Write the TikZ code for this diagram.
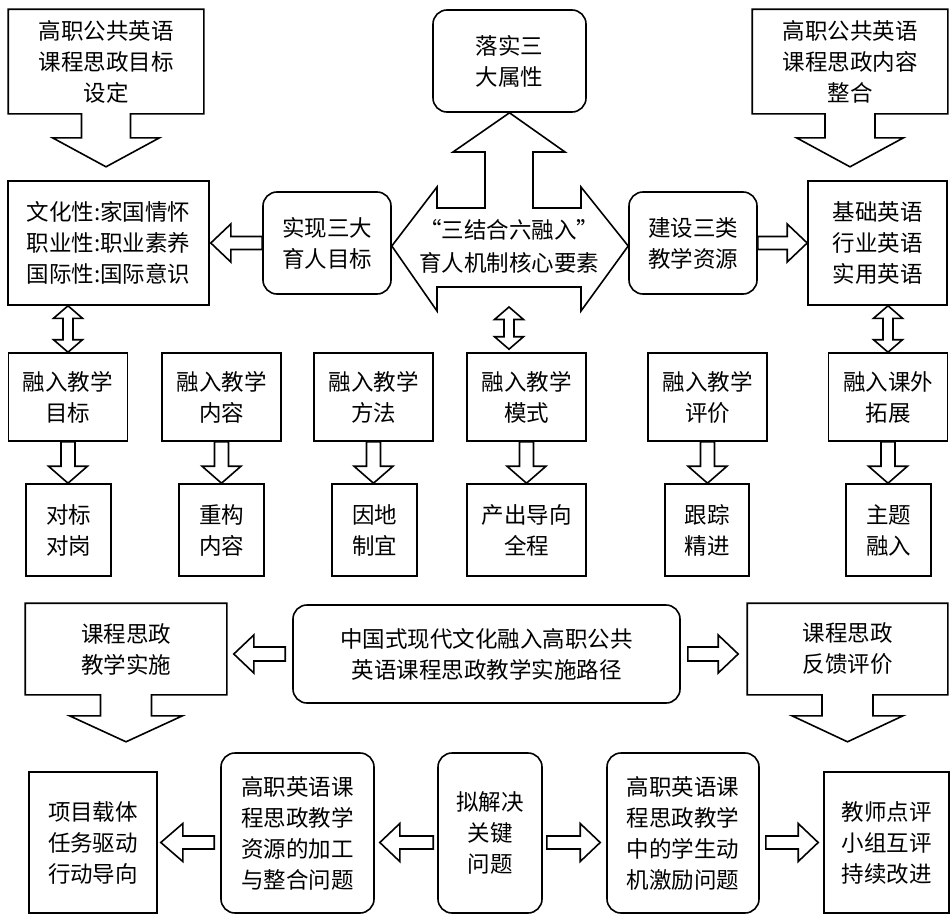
\documentclass[tikz,border=0pt]{standalone}
\usepackage{fontspec}
\setmainfont{Noto Sans CJK SC}
\usepackage{tikz}
\usetikzlibrary{calc}
\tikzset{
    sqbox/.style={rectangle, draw=black, line width=1.6pt, align=center, inner sep=0pt,
        font=\fontsize{22.5}{31}\selectfont},
    rdbox/.style={sqbox, rounded corners=14pt},
    callbox/.style={sqbox, draw=none},
    tipline/.style={draw=black, line width=1.6pt, line join=miter},
}
% hollow block arrows between named points
\newcommand{\blockarrow}[5]{%
    \coordinate (ba-a) at #1;
    \coordinate (ba-b) at #2;
    \coordinate (ba-c) at ($(ba-b)!#5!(ba-a)$);
    \draw[tipline] ($(ba-a)!#3!90:(ba-b)$) -- ($(ba-c)!#3!90:(ba-b)$) -- ($(ba-c)!#4!90:(ba-b)$)
        -- (ba-b) -- ($(ba-c)!#4!-90:(ba-b)$) -- ($(ba-c)!#3!-90:(ba-b)$) -- ($(ba-a)!#3!-90:(ba-b)$) -- cycle;
}
\newcommand{\dblarrow}[5]{%
    \coordinate (da-a) at #1;
    \coordinate (da-b) at #2;
    \coordinate (da-c) at ($(da-a)!#5!(da-b)$);
    \coordinate (da-d) at ($(da-b)!#5!(da-a)$);
    \draw[tipline] (da-a) -- ($(da-c)!#4!90:(da-b)$) -- ($(da-c)!#3!90:(da-b)$) -- ($(da-d)!#3!90:(da-b)$)
        -- ($(da-d)!#4!90:(da-b)$) -- (da-b) -- ($(da-d)!#4!-90:(da-b)$) -- ($(da-d)!#3!-90:(da-b)$)
        -- ($(da-c)!#3!-90:(da-b)$) -- ($(da-c)!#4!-90:(da-b)$) -- cycle;
}
% box with a block arrow hanging below it
\newcommand{\calloutdown}[5]{%
    \draw[tipline] (#1.north west) -- (#1.north east) -- (#1.south east)
        -- ($(#1.south)+(#2,0)$) -- ($(#1.south)+(#2,#4)$) -- ($(#1.south)+(#3,#4)$)
        -- ($(#1.south)+(0,#4+#5)$) -- ($(#1.south)+(-#3,#4)$) -- ($(#1.south)+(-#2,#4)$)
        -- ($(#1.south)+(-#2,0)$) -- (#1.south west) -- cycle;
}

\begin{document}
\begin{tikzpicture}[x=1pt, y=-1pt]
    \useasboundingbox (0,0) rectangle (951,921);

    % top part
    \node[callbox, minimum width=194, minimum height=103] (goalset) at (106,61.5) {高职公共英语\\课程思政目标\\设定};
    \node[rdbox, minimum width=153, minimum height=102] (luoshi) at (509.5,61) {落实三\\大属性};
    \node[callbox, minimum width=194, minimum height=103] (contentset) at (850,61.5) {高职公共英语\\课程思政内容\\整合};
    \calloutdown{goalset}{24.5}{53.5}{24}{29}
    \calloutdown{contentset}{25}{53.5}{24}{29}

    \node[sqbox, minimum width=201, minimum height=124] (wenhua) at (108.5,243) {文化性:家国情怀\\职业性:职业素养\\国际性:国际意识};
    \node[rdbox, minimum width=128, minimum height=102] (shixian) at (327,243) {实现三大\\育人目标};
    \node[font=\fontsize{22.5}{33}\selectfont, align=center, inner sep=0pt] (core) at (509,246) {“三结合六融入”\\育人机制核心要素};
    \node[rdbox, minimum width=128, minimum height=102] (jianshe) at (693,243) {建设三类\\教学资源};
    \node[sqbox, minimum width=139, minimum height=124] (jichu) at (877.5,243) {基础英语\\行业英语\\实用英语};

    \draw[tipline] (shixian.east |- core) -- ($(core)+(-72,-59)$) -- ($(core)+(-72,-38)$) -- ($(core)+(-24,-38)$)
        -- ($(core)+(-24,-94)$) -- ($(core)+(-56,-94)$) -- (luoshi.south) -- ($(core)+(56,-94)$)
        -- ($(core)+(24,-94)$) -- ($(core)+(24,-38)$) -- ($(core)+(72,-38)$) -- ($(core)+(72,-59)$)
        -- (jianshe.west |- core) -- ($(core)+(72,65)$) -- ($(core)+(72,41)$) -- ($(core)+(-72,41)$)
        -- ($(core)+(-72,65)$) -- cycle;
    \blockarrow{(shixian.west)}{($(wenhua.east)+(1,0)$)}{6.5pt}{19pt}{20pt}
    \blockarrow{(jianshe.east)}{(jichu.west)}{6.5pt}{19pt}{20pt}

    % six ways of integration
    \foreach \name/\x/\top/\sx/\sw/\bottom in {
        r1/68/{融入教学\\目标}/68.5/85/{对标\\对岗},
        r2/221.5/{融入教学\\内容}/221.5/85/{重构\\内容},
        r3/373.5/{融入教学\\方法}/374.5/85/{因地\\制宜},
        r4/526.5/{融入教学\\模式}/526.5/119/{产出导向\\全程},
        r5/707.5/{融入教学\\评价}/707/84/{跟踪\\精进},
        r6/888/{融入课外\\拓展}/888.5/85/{主题\\融入}}{
        \node[sqbox, minimum width=119, minimum height=88] (\name) at (\x,397) {\top};
        \node[sqbox, minimum width=\sw, minimum height=92] (\name s) at (\sx,530) {\bottom};
        \blockarrow{(\name.south)}{(\name.south |- \name s.north)}{7pt}{19.5pt}{17pt}
    }
    \dblarrow{(r1.north |- wenhua.south)}{(r1.north)}{5pt}{14.5pt}{12.5pt}
    \dblarrow{($(core)+(0,61)$)}{($(core |- r4.north)+(0,-3)$)}{5pt}{14.5pt}{12.5pt}
    \dblarrow{(r6.north |- jichu.south)}{(r6.north)}{5pt}{14.5pt}{12.5pt}

    % bottom part
    \node[callbox, minimum width=200, minimum height=90] (shishi) at (126,649) {课程思政\\教学实施};
    \node[rdbox, minimum width=387, minimum height=98] (route) at (486.5,654) {中国式现代文化融入高职公共\\英语课程思政教学实施路径};
    \node[callbox, minimum width=199, minimum height=90] (fankui) at (847.5,649) {课程思政\\反馈评价};
    \calloutdown{shishi}{25.5}{56.5}{21}{26}
    \calloutdown{fankui}{25.5}{55.5}{21}{26}
    \blockarrow{($(route.west)+(-7,0)$)}{($(shishi.east |- route.west)+(7,0)$)}{7pt}{19pt}{20pt}
    \blockarrow{($(route.east)+(7,0)$)}{($(fankui.west |- route.east)+(-9,0)$)}{7pt}{19pt}{20pt}

    \node[sqbox, minimum width=128, minimum height=141] (xiangmu) at (93,842.5) {项目载体\\任务驱动\\行动导向};
    \node[rdbox, minimum width=153, minimum height=160] (ziyuan) at (297.5,833) {高职英语课\\程思政教学\\资源的加工\\与整合问题};
    \node[rdbox, minimum width=104, minimum height=160] (nijie) at (490,833) {拟解决\\关键\\问题};
    \node[rdbox, minimum width=152, minimum height=160] (dongji) at (683,833) {高职英语课\\程思政教学\\中的学生动\\机激励问题};
    \node[sqbox, minimum width=125, minimum height=141] (pingjia) at (886.5,842.5) {教师点评\\小组互评\\持续改进};
    \blockarrow{($(nijie.west |- xiangmu)+(-4,0)$)}{($(ziyuan.east |- xiangmu)+(5,0)$)}{6.5pt}{19pt}{20pt}
    \blockarrow{($(ziyuan.west |- xiangmu)+(-6,0)$)}{($(xiangmu.east)+(3,0)$)}{6.5pt}{19pt}{22pt}
    \blockarrow{($(nijie.east |- xiangmu)+(4,0)$)}{($(dongji.west |- xiangmu)+(-6,0)$)}{6.5pt}{19pt}{20pt}
    \blockarrow{($(dongji.east |- pingjia)+(6,0)$)}{($(pingjia.west)+(-5,0)$)}{6.5pt}{19pt}{20pt}
\end{tikzpicture}
\end{document}
